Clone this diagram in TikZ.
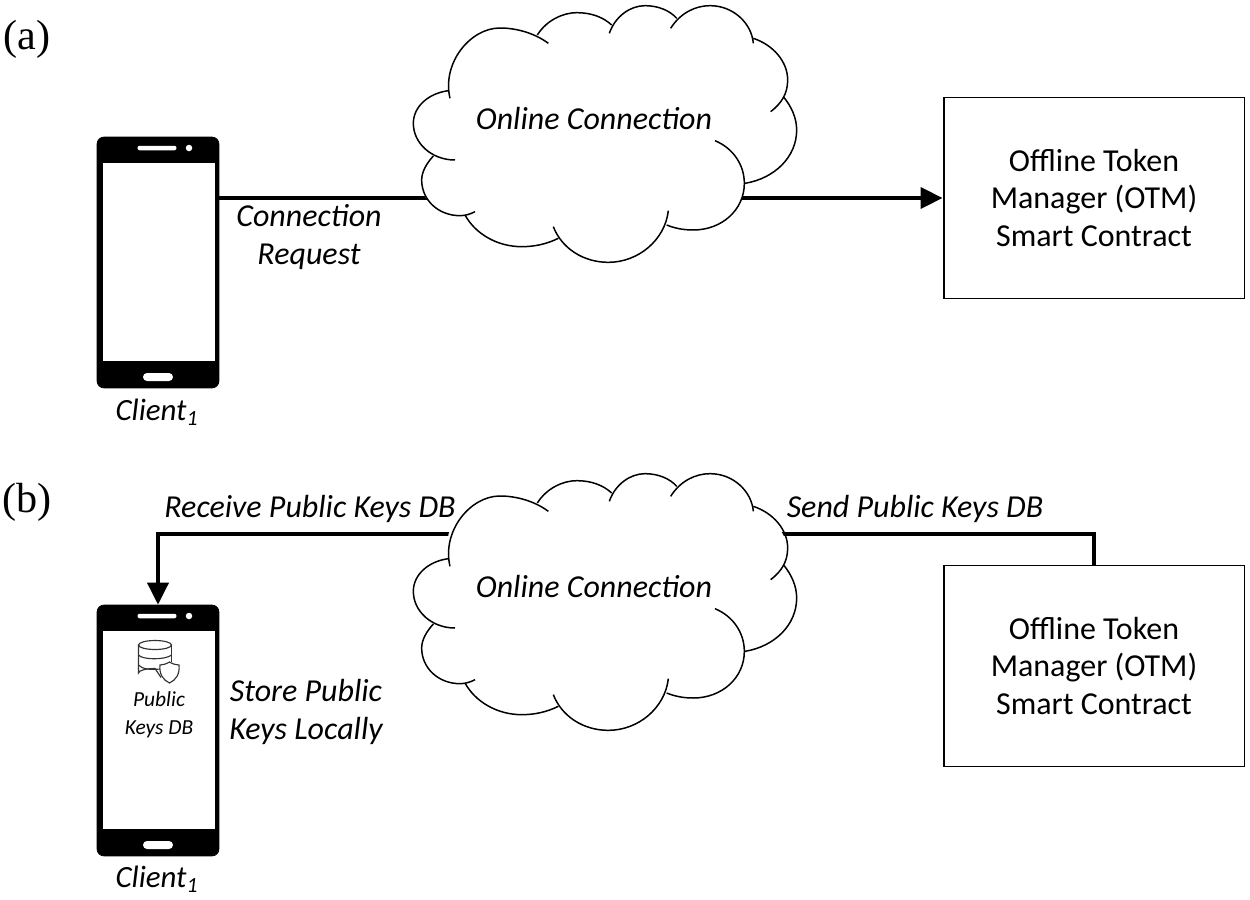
\documentclass[tikz,border=0pt]{standalone}
\usepackage{fontspec}
\setmainfont{Carlito}
\newfontfamily\panelfont{Liberation Serif}
\usetikzlibrary{arrows.meta}
\begin{document}
\begin{tikzpicture}
[
x=0.02cm,y=-0.02cm,
Phone/.style={rectangle,draw=black,fill=black,rounded corners=0.14cm,minimum width=2.44cm,minimum height=5.02cm,inner sep=0pt},
Screen/.style={rectangle,fill=white,minimum width=2.24cm,minimum height=3.96cm,inner sep=0pt},
Speaker/.style={rectangle,fill=white,rounded corners=0.04cm,minimum width=0.78cm,minimum height=0.09cm,inner sep=0pt},
Camera/.style={circle,fill=white,minimum size=0.13cm,inner sep=0pt},
HomeKey/.style={rectangle,fill=white,rounded corners=0.08cm,minimum width=0.6cm,minimum height=0.16cm,inner sep=0pt},
Box/.style={rectangle,draw=black,fill=white,line width=1.1pt,minimum width=6.02cm,minimum height=4.02cm,align=center,inner sep=0pt,font=\fontsize{18.2}{21.6}\selectfont},
Label/.style={align=center,inner sep=0pt,font=\fontsize{18.2}{21.6}\selectfont\itshape},
ClientLabel/.style={inner sep=0pt,font=\fontsize{17.6}{21.6}\selectfont\itshape},
SmallLabel/.style={align=center,inner sep=0pt,font=\fontsize{12.2}{16}\selectfont\itshape},
PanelLabel/.style={inner sep=0pt,font=\fontsize{24}{26}\panelfont},
Thickline/.style={draw=black,line width=2.2pt,-{Triangle[length=0.44cm,width=0.42cm]}},
IconLine/.style={draw=black!80,line width=0.65pt},
CloudLine/.style={draw=black,line width=0.85pt},
CloudShape/.pic={
  \begin{scope}[scale=1/3]
  \fill[white] (145,200)--(165,150)--(220,105)--(300,85)--(412,105)--(470,55)--(530,38)--(630,85)--(680,30)--(735,17)--(820,70)--(870,30)--(930,17)--(1010,50)--(1060,125)--(1130,165)--(1160,220)--(1150,290)--(1185,350)--(1185,420)--(1130,510)--(1035,550)--(1025,600)--(970,665)--(880,690)--(800,675)--(740,760)--(625,787)--(530,765)--(470,715)--(365,740)--(270,715)--(195,645)--(120,635)--(75,590)--(65,540)--(100,468)--(50,420)--(40,370)--(75,300)--(145,272)--cycle;
  \draw[CloudLine] (150,295) .. controls (125,190) and (210,84) .. (300,84) .. controls (350,84) and (405,100) .. (445,130);
  \draw[CloudLine] (412,105) .. controls (440,60) and (490,38) .. (530,38) .. controls (575,38) and (610,52) .. (635,75);
  \draw[CloudLine] (628,100) .. controls (645,50) and (690,17) .. (735,17) .. controls (775,17) and (810,32) .. (830,55);
  \draw[CloudLine] (812,85) .. controls (840,40) and (885,17) .. (930,17) .. controls (1000,17) and (1055,70) .. (1060,130);
  \draw[CloudLine] (1060,115) .. controls (1120,135) and (1163,185) .. (1163,240) .. controls (1163,280) and (1145,310) .. (1112,335);
  \draw[CloudLine] (1150,290) .. controls (1175,320) and (1190,355) .. (1190,390) .. controls (1190,470) and (1125,535) .. (1035,550);
  \draw[CloudLine] (945,422) .. controls (1000,445) and (1033,495) .. (1033,550) .. controls (1033,630) and (965,690) .. (880,690) .. controls (850,690) and (825,685) .. (800,675);
  \draw[CloudLine] (805,632) .. controls (795,720) and (715,787) .. (625,787) .. controls (550,787) and (485,745) .. (460,680);
  \draw[CloudLine] (475,715) .. controls (440,732) and (405,740) .. (365,740) .. controls (290,740) and (225,700) .. (195,645);
  \draw[CloudLine] (225,635) .. controls (210,643) and (195,647) .. (180,647) .. controls (115,647) and (65,600) .. (65,540) .. controls (65,515) and (80,490) .. (100,468);
  \draw[CloudLine] (165,480) .. controls (95,480) and (40,430) .. (40,370) .. controls (40,320) and (85,280) .. (145,272);
  \end{scope}
}
]
\useasboundingbox (0,0) rectangle (1250,899);

% panel a
\node[PanelLabel] (panelA) at (27,39) {(a)};
\node[Phone] (phoneA) at (158,262.5) {};
\node[Screen] (screenA) at (159,262) {};
\node[Speaker] (speakerA) at (157,148) {};
\node[Camera] (cameraA) at (189,148) {};
\node[HomeKey] (homeA) at (158,377) {};
\node[Box] (otmA) at (1094,198) {Offline Token\\Manager (OTM)\\Smart Contract};
\draw[Thickline] (phoneA.east |- otmA.west)--(otmA.west);
\pic at (400,0) {CloudShape};
\node[Label] (cloudA) at (594,119) {Online Connection};
\node[Label] (requestA) at (309,237) {Connection\\Request};
\node[ClientLabel] (clientA) at (157,412) {Client\textsubscript{1}};

% panel b
\node[PanelLabel] (panelB) at (27,502) {(b)};
\node[Phone] (phoneB) at (158,730.5) {};
\node[Screen] (screenB) at (159,730) {};
\node[Speaker] (speakerB) at (157,616) {};
\node[Camera] (cameraB) at (189,616) {};
\node[HomeKey] (homeB) at (158,845) {};
\node[Box] (otmB) at (1094,666) {Offline Token\\Manager (OTM)\\Smart Contract};
\coordinate (turnB) at (phoneB.north |- 0,534);
\draw[Thickline] (otmB.north) |- (turnB)--(phoneB.north);
\pic at (400,468) {CloudShape};
\node[Label] (cloudB) at (594,587) {Online Connection};
\node[Label] (receiveB) at (310,509) {Receive Public Keys DB};
\node[Label] (sendB) at (915,509) {Send Public Keys DB};
\node[Label] (storeB) at (306,712) {Store Public\\Keys Locally};
\node[SmallLabel] (keysB) at (159,715) {Public\\Keys DB};
\node[ClientLabel] (clientB) at (157,879) {Client\textsubscript{1}};

% database icon
\draw[IconLine] (155,645) ellipse (16.5 and 4.5);
\draw[IconLine] (138.5,645)--(138.5,673) arc (180:90:16.5 and -4.5)--(161,677.5);
\draw[IconLine] (171.5,645)--(171.5,662);
\draw[IconLine] (138.5,655) .. controls (142,660) and (166,660) .. (171.5,655);
\draw[IconLine] (138.5,665) .. controls (142,669) and (150,670) .. (160,669);
\draw[IconLine,fill=white] (169.5,662) .. controls (173,664) and (176,665) .. (179,665) .. controls (180,674) and (176,680) .. (169.5,683) .. controls (163,680) and (159,674) .. (160,665) .. controls (163,665) and (166,664) .. (169.5,662)--cycle;
\end{tikzpicture}
\end{document}
